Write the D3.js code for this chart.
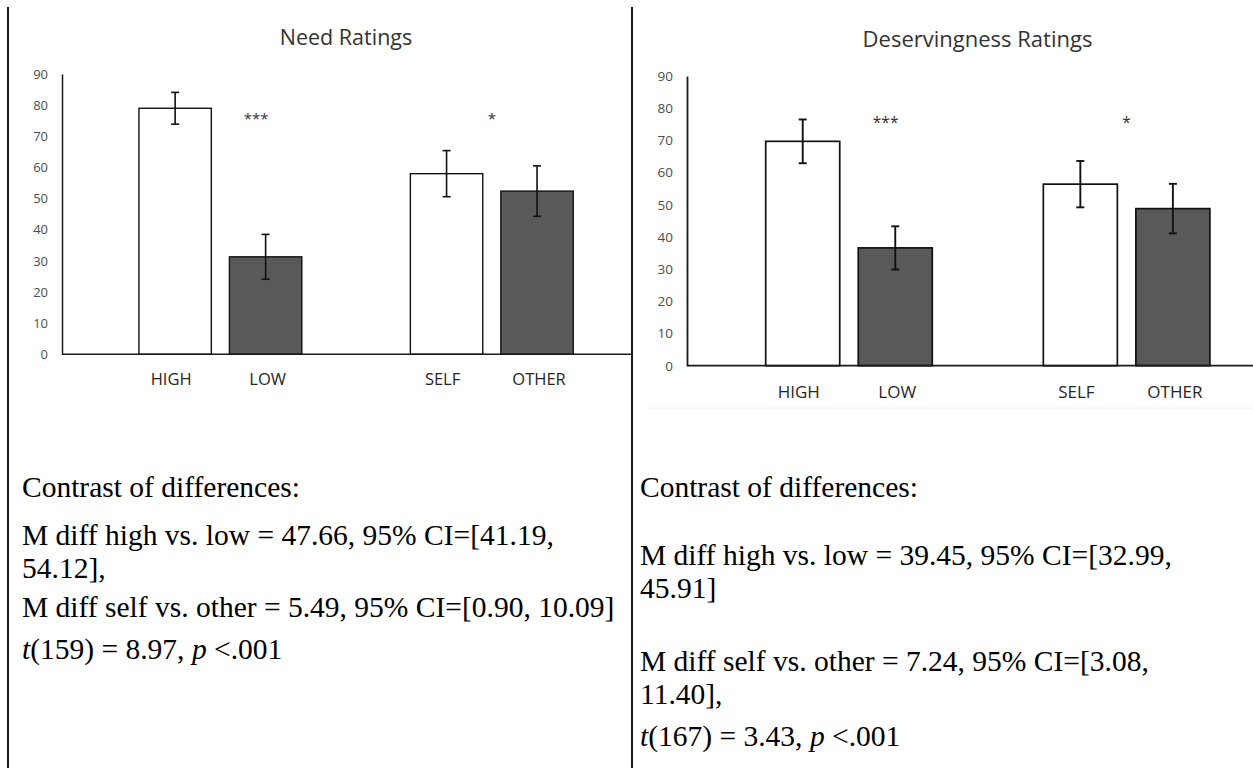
<!DOCTYPE html>
<html>
<head>
<meta charset="utf-8">
<script src="https://cdn.jsdelivr.net/npm/d3@7"></script>
<style>
  html, body { margin: 0; padding: 0; background: #ffffff; }
  svg { display: block; }
</style>
</head>
<body>
<script>
// ---------------- DATA ----------------
const categories = ["HIGH", "LOW", "SELF", "OTHER"];
const groupOfCategory = ["need", "need", "target", "target"];
const seriesOfCategory = ["light", "dark", "light", "dark"];
const groupNames = ["need", "target"];
const yTicks = [0, 10, 20, 30, 40, 50, 60, 70, 80, 90];

const needTitle = "Need Ratings";
const needMeans = [79.0, 31.3, 58.0, 52.4];
const needErrors = [5.1, 7.2, 7.4, 8.1];

const deservingTitle = "Deservingness Ratings";
const deservingMeans = [69.7, 36.6, 56.4, 48.8];
const deservingErrors = [6.8, 6.7, 7.2, 7.7];

const sigLabels = ["***", "*"];
const sigValues = [77, 77];

const needNotes = [
  "Contrast of differences:",
  "M diff high vs. low = 47.66, 95% CI=[41.19,",
  "54.12],",
  "M diff self vs. other = 5.49, 95% CI=[0.90, 10.09]",
  "_t_(159) = 8.97, _p_ <.001"
];
const deservingNotes = [
  "Contrast of differences:",
  "M diff high vs. low = 39.45, 95% CI=[32.99,",
  "45.91]",
  "M diff self vs. other = 7.24, 95% CI=[3.08,",
  "11.40],",
  "_t_(167) = 3.43, _p_ <.001"
];

// ---------------- LAYOUT ----------------
const W = 1253, H = 768;
const svg = d3.select("body").append("svg")
  .attr("width", W).attr("height", H)
  .attr("viewBox", `0 0 ${W} ${H}`);

svg.append("rect").attr("width", W).attr("height", H).attr("fill", "#ffffff");

const sansFont = "'Open Sans', 'Noto Sans', sans-serif";
const serifFont = "'Liberation Serif', 'Times New Roman', serif";
const fillFor = { light: "#ffffff", dark: "#595959" };
const labelNudge = { light: -4, dark: 2 };
const sigOffsets = [0.72, 0.5];

function drawChart(cfg) {
  const g = svg.append("g").attr("transform", `translate(${cfg.left},0)`);

  const y = d3.scaleLinear().domain([0, 90]).range([cfg.yZero, cfg.yTop]);
  const x0 = d3.scaleBand().domain(groupNames).range([0, cfg.plotW])
    .paddingInner(0.4).paddingOuter(0.25).align(0.567);
  const x1 = d3.scaleBand().domain(["light", "dark"]).range([0, x0.bandwidth()])
    .paddingInner(0.2);

  const rows = categories.map((c, i) => ({
    cat: c, group: groupOfCategory[i], series: seriesOfCategory[i],
    mean: cfg.means[i], err: cfg.errors[i]
  }));
  const bx = d => x0(d.group) + x1(d.series);
  const cx = d => bx(d) + x1.bandwidth() / 2;

  // title
  svg.append("text")
    .attr("x", cfg.left + cfg.plotW / 2 - 1)
    .attr("y", cfg.titleY)
    .attr("text-anchor", "middle")
    .attr("font-family", sansFont)
    .attr("font-size", cfg.titleSize)
    .attr("fill", "#333333")
    .text(cfg.title);

  // y axis
  const yAxis = d3.axisLeft(y).tickValues(yTicks).tickSizeInner(0).tickSizeOuter(0).tickPadding(14);
  const ya = g.append("g").call(yAxis);
  ya.select(".domain").attr("stroke", "#1a1a1a").attr("stroke-width", cfg.stroke);
  ya.selectAll(".tick text")
    .attr("font-family", sansFont)
    .attr("font-size", cfg.tickSize)
    .attr("fill", "#4d4d4d");

  // bars
  g.selectAll("rect.bar").data(rows).enter().append("rect")
    .attr("class", "bar")
    .attr("x", d => bx(d))
    .attr("y", d => y(d.mean))
    .attr("width", x1.bandwidth())
    .attr("height", d => y(0) - y(d.mean))
    .attr("fill", d => fillFor[d.series])
    .attr("stroke", "#111111")
    .attr("stroke-width", cfg.stroke - 0.1);

  // x axis line
  const xLine = d3.scaleLinear().domain([0, 1]).range([0, cfg.plotW]);
  g.append("line")
    .attr("x1", xLine(0)).attr("x2", xLine(1))
    .attr("y1", y(0)).attr("y2", y(0))
    .attr("stroke", "#1a1a1a").attr("stroke-width", cfg.stroke);

  // error bars
  const eb = g.selectAll("g.err").data(rows).enter().append("g").attr("class", "err")
    .attr("stroke", "#111111").attr("stroke-width", cfg.stroke + 0.1);
  eb.append("line")
    .attr("x1", cx).attr("x2", cx)
    .attr("y1", d => y(d.mean + d.err)).attr("y2", d => y(d.mean - d.err));
  eb.append("line")
    .attr("x1", d => cx(d) - 4).attr("x2", d => cx(d) + 4)
    .attr("y1", d => y(d.mean + d.err)).attr("y2", d => y(d.mean + d.err));
  eb.append("line")
    .attr("x1", d => cx(d) - 4).attr("x2", d => cx(d) + 4)
    .attr("y1", d => y(d.mean - d.err)).attr("y2", d => y(d.mean - d.err));

  // category labels
  g.selectAll("text.cat").data(rows).enter().append("text")
    .attr("class", "cat")
    .attr("x", d => cx(d) + labelNudge[d.series])
    .attr("y", cfg.labelY)
    .attr("text-anchor", "middle")
    .attr("font-family", sansFont)
    .attr("font-size", cfg.labelSize)
    .attr("fill", "#262626")
    .text(d => d.cat);

  // significance stars
  g.selectAll("text.sig").data(sigLabels).enter().append("text")
    .attr("class", "sig")
    .attr("x", (d, i) => x0(groupNames[i]) + x0.bandwidth() * sigOffsets[i])
    .attr("y", (d, i) => y(sigValues[i]) + 10)
    .attr("text-anchor", "middle")
    .attr("font-family", sansFont)
    .attr("font-size", cfg.sigSize)
    .attr("fill", "#333333")
    .text(d => d);
}

drawChart({
  left: 62, plotW: 570, yZero: 354.3, yTop: 74, stroke: 1.5,
  means: needMeans, errors: needErrors, title: needTitle,
  titleY: 45, titleSize: 21.5, tickSize: 13, labelSize: 16.5, labelY: 385, sigSize: 15
});

drawChart({
  left: 687, plotW: 583, yZero: 365.7, yTop: 76, stroke: 1.8,
  means: deservingMeans, errors: deservingErrors, title: deservingTitle,
  titleY: 47, titleSize: 22, tickSize: 13.5, labelSize: 17, labelY: 398, sigSize: 15.5
});

// faint image border under the right chart
svg.append("line")
  .attr("x1", 646).attr("x2", W).attr("y1", 408).attr("y2", 408)
  .attr("stroke", "#f0f0f0").attr("stroke-width", 1);

// table borders
svg.append("line").attr("x1", 8).attr("x2", 8).attr("y1", 7).attr("y2", H)
  .attr("stroke", "#000").attr("stroke-width", 1.8);
svg.append("line").attr("x1", 632).attr("x2", 632).attr("y1", 7).attr("y2", H)
  .attr("stroke", "#000").attr("stroke-width", 1.8);

// notes
function drawNotes(lines, x, ys) {
  lines.forEach((line, i) => {
    const t = svg.append("text")
      .attr("x", x).attr("y", ys[i])
      .attr("font-family", serifFont)
      .attr("font-size", 29.5)
      .attr("fill", "#000");
    line.split("_").forEach((part, k) => {
      if (part.length === 0) return;
      t.append("tspan")
        .attr("font-style", k % 2 === 1 ? "italic" : "normal")
        .text(part);
    });
  });
}
drawNotes(needNotes, 22, [497, 545, 578, 617, 659]);
drawNotes(deservingNotes, 640, [497, 565, 598, 671, 704, 746]);
</script>
</body>
</html>
